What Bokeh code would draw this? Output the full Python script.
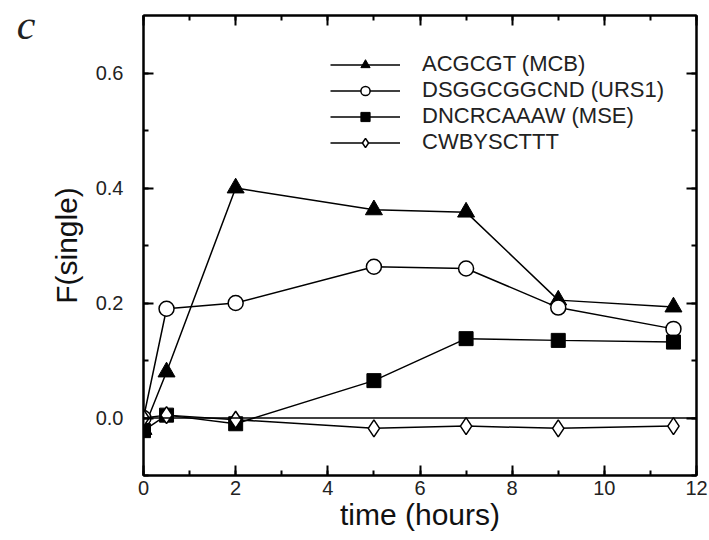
from bokeh.plotting import figure
from bokeh.models import (Range1d, LinearAxis, SingleIntervalTicker, FixedTicker, PrintfTickFormatter,
                          CustomJSTickFormatter, Span, Legend, LegendItem)
from bokeh.embed import file_html
from bokeh.resources import INLINE

# ---- data ----
time_h = [0, 0.5, 2, 5, 7, 9, 11.5]
mcb = [-0.02, 0.08, 0.40, 0.362, 0.358, 0.205, 0.193]
urs1 = [0.0, 0.19, 0.20, 0.263, 0.26, 0.192, 0.155]
mse = [-0.022, 0.005, -0.01, 0.065, 0.138, 0.135, 0.132]
cwb = [0.0, 0.005, -0.003, -0.018, -0.014, -0.018, -0.014]
series_names = ["ACGCGT (MCB)", "DSGGCGGCND (URS1)", "DNCRCAAAW (MSE)", "CWBYSCTTT"]
x_ticks_interval = 2
y_ticks_interval = 0.2
panel_letter = "c"
panel_letter_level = 0.688

FONT = "Liberation Sans"

p = figure(width=709, height=540, output_backend="svg", toolbar_location=None,
           x_range=Range1d(0, 12), y_range=Range1d(-0.1, 0.7),
           min_border_left=143, min_border_right=13, min_border_top=15, min_border_bottom=65,
           background_fill_color="white", border_fill_color="white")
p.outline_line_color = "black"
p.outline_line_width = 2
p.xgrid.visible = False
p.ygrid.visible = False

def style_axis(ax, show_labels=True):
    ax.axis_line_width = 2
    ax.axis_line_color = "black"
    ax.major_tick_in = 10
    ax.major_tick_out = 0
    ax.minor_tick_in = 5
    ax.minor_tick_out = 0
    ax.major_tick_line_width = 2
    ax.minor_tick_line_width = 2
    ax.major_tick_line_color = "black"
    ax.minor_tick_line_color = "black"
    ax.major_label_text_font = FONT
    ax.major_label_text_font_size = "20px"
    ax.major_label_text_color = "#222222"
    ax.axis_label_text_font = FONT
    ax.axis_label_text_font_style = "normal"
    ax.axis_label_text_color = "#111111"
    if not show_labels:
        ax.formatter = CustomJSTickFormatter(code="return ''")
        ax.major_label_standoff = 0

p.xaxis.ticker = SingleIntervalTicker(interval=x_ticks_interval, num_minor_ticks=2)
p.yaxis.ticker = SingleIntervalTicker(interval=y_ticks_interval, num_minor_ticks=2)
p.yaxis.formatter = PrintfTickFormatter(format="%.1f")
style_axis(p.xaxis[0])
style_axis(p.yaxis[0])
p.xaxis.axis_label = "time (hours)"
p.xaxis.axis_label_text_font_size = "30px"
p.xaxis.major_label_standoff = 5
p.xaxis.axis_label_standoff = 0
p.yaxis.axis_label = "F(single)"
p.yaxis.axis_label_text_font_size = "30px"
p.yaxis.major_label_standoff = 20
p.yaxis.axis_label_standoff = 10

top_ax = LinearAxis(ticker=SingleIntervalTicker(interval=x_ticks_interval, num_minor_ticks=2))
style_axis(top_ax, show_labels=False)
p.add_layout(top_ax, "above")
right_ax = LinearAxis(ticker=SingleIntervalTicker(interval=y_ticks_interval, num_minor_ticks=2))
style_axis(right_ax, show_labels=False)
p.add_layout(right_ax, "right")

# panel letter drawn as the only tick label of an extra, invisible left axis
letter_ax = LinearAxis(ticker=FixedTicker(ticks=[panel_letter_level], minor_ticks=[]),
                       major_label_overrides={panel_letter_level: panel_letter})
letter_ax.axis_line_color = None
letter_ax.major_tick_line_color = None
letter_ax.minor_tick_line_color = None
letter_ax.major_tick_in = 0
letter_ax.major_tick_out = 0
letter_ax.major_label_standoff = 11
letter_ax.major_label_text_font = "Liberation Serif"
letter_ax.major_label_text_font_style = "italic"
letter_ax.major_label_text_font_size = "42px"
letter_ax.major_label_text_color = "#222222"
p.add_layout(letter_ax, "left")

p.add_layout(Span(location=0, dimension="width", line_color="black", line_width=1.5))

lw = 1.5
r1l = p.line(time_h, mcb, line_color="black", line_width=lw)
r1m = p.scatter(time_h, mcb, marker="triangle", size=17, fill_color="black", line_color="black")
r2l = p.line(time_h, urs1, line_color="black", line_width=lw)
r2m = p.scatter(time_h, urs1, marker="circle", size=15, fill_color="white", line_color="black", line_width=1.5)
r3l = p.line(time_h, mse, line_color="black", line_width=lw)
r3m = p.scatter(time_h, mse, marker="square", size=14, fill_color="black", line_color="black")
r4l = p.line(time_h, cwb, line_color="black", line_width=lw)
r4m = p.scatter(time_h, cwb, marker="diamond", size=17, fill_color="white", line_color="black", line_width=1.5)

legend = Legend(items=[
    LegendItem(label=series_names[0], renderers=[r1l, r1m]),
    LegendItem(label=series_names[1], renderers=[r2l, r2m]),
    LegendItem(label=series_names[2], renderers=[r3l, r3m]),
    LegendItem(label=series_names[3], renderers=[r4l, r4m]),
], location=(187, 320))
legend.background_fill_alpha = 0
legend.border_line_alpha = 0
legend.padding = 0
legend.margin = 0
legend.spacing = 0
legend.glyph_width = 70
legend.glyph_height = 23
legend.label_height = 23
legend.label_standoff = 22
legend.label_text_font = FONT
legend.label_text_font_size = "22px"
legend.label_text_color = "#222222"
p.add_layout(legend)

open("out.html", "w").write(file_html(p, INLINE))
